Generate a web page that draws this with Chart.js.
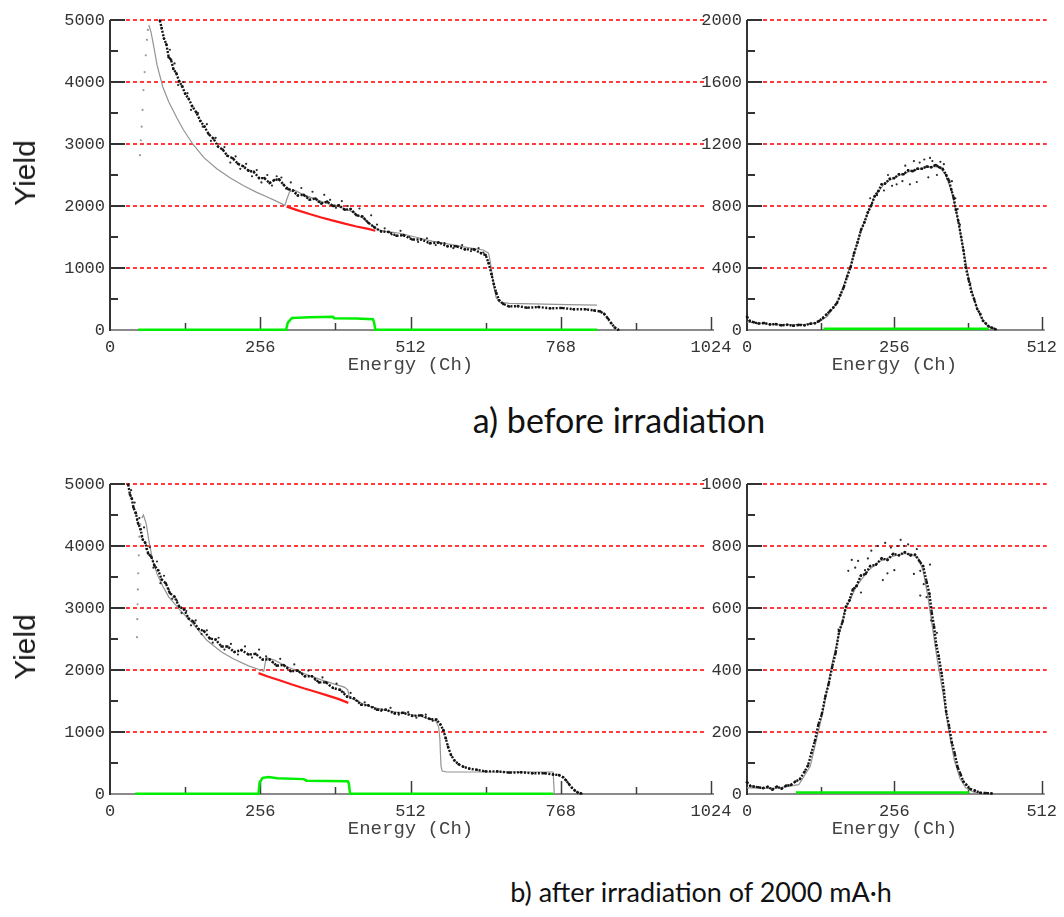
<!DOCTYPE html>
<html>
<head>
<meta charset="utf-8">
<script src="https://cdn.jsdelivr.net/npm/chart.js@4.4.1/dist/chart.umd.min.js"></script>
<style>
  body { margin: 0; background: #fff; width: 1064px; height: 917px; position: relative; overflow: hidden; }
  canvas { position: absolute; }
  .yield { position: absolute; font: 30px "Liberation Sans", Arial, sans-serif; color: #1a1a1a;
           transform: translate(-50%, -50%) rotate(-90deg); white-space: nowrap; }
  .cap { position: absolute; font-family: Lato, "Noto Sans", sans-serif; color: #111;
         transform: translate(-50%, -50%); white-space: nowrap; }
</style>
</head>
<body>
<canvas id="tl" width="700" height="380" style="left:40px;top:0px"></canvas>
<canvas id="tr" width="374" height="380" style="left:690px;top:0px"></canvas>
<canvas id="bl" width="700" height="380" style="left:40px;top:464px"></canvas>
<canvas id="br" width="374" height="380" style="left:690px;top:464px"></canvas>
<div class="yield" style="left:25px;top:173px">Yield</div>
<div class="yield" style="left:25px;top:647px">Yield</div>
<div class="cap" style="left:619px;top:419px;font-size:34px">a) before irradiation</div>
<div class="cap" style="left:701px;top:891px;font-size:27px">b) after irradiation of 2000 mA·h</div>
<script>
// ---- a) before irradiation, full spectrum (0-1024 ch)
const tlExpCh = [85, 88, 92, 96, 100, 104, 108, 113, 118, 123, 128, 134, 140, 147, 154, 161, 168, 176, 184, 192, 200, 209, 218, 227, 236, 245, 254, 263, 272, 280, 288, 296, 304, 312, 320, 330, 340, 350, 360, 370, 380, 390, 400, 410, 420, 430, 440, 450, 462, 475, 488, 500, 515, 530, 545, 560, 575, 590, 605, 620, 632, 640, 645, 650, 654, 658, 663, 670, 680, 695, 710, 730, 750, 770, 790, 810, 825, 835, 842, 848, 854, 860, 866];
const tlExpYield = [4990, 4870, 4700, 4610, 4400, 4360, 4210, 4140, 4010, 3930, 3810, 3730, 3610, 3510, 3370, 3280, 3160, 3090, 2960, 2910, 2810, 2770, 2680, 2640, 2570, 2550, 2450, 2450, 2370, 2420, 2430, 2340, 2270, 2250, 2170, 2180, 2100, 2120, 2040, 2070, 2000, 2010, 1940, 1950, 1850, 1830, 1730, 1660, 1590, 1580, 1520, 1530, 1460, 1460, 1400, 1410, 1350, 1350, 1300, 1300, 1240, 1210, 1080, 900, 740, 600, 480, 420, 380, 385, 360, 370, 350, 355, 335, 335, 315, 300, 260, 190, 110, 40, 5];
const tlNoiseCh = [102, 110, 116, 125, 132, 138, 150, 158, 165, 172, 180, 195, 205, 214, 222, 232, 242, 250, 258, 268, 276, 284, 292, 300, 308, 316, 326, 335, 345, 355, 365, 375, 385, 395, 405, 415, 425, 435, 445, 455, 468, 480, 495, 510, 525, 540, 555, 570, 585, 600, 615, 628, 636];
const tlNoiseYield = [4520, 4300, 3950, 4000, 3820, 3550, 3500, 3280, 3320, 3050, 3100, 2950, 2700, 2800, 2600, 2680, 2480, 2580, 2380, 2500, 2330, 2480, 2460, 2280, 2380, 2200, 2290, 2150, 2230, 2070, 2180, 2100, 1970, 2080, 2000, 1900, 1960, 1780, 1850, 1700, 1640, 1540, 1600, 1500, 1420, 1480, 1370, 1400, 1320, 1370, 1270, 1320, 1250];
const tlSimRiseCh = [51, 52.5, 54, 55.5, 57, 59, 61, 63, 64.5];
const tlSimRiseYield = [2820, 3060, 3280, 3550, 3870, 4160, 4430, 4680, 4840];
const tlSimCh = [66, 70, 75, 80, 90, 100, 114, 125, 141, 160, 182, 205, 227, 250, 267, 285, 298, 301, 306, 315, 330, 350, 370, 390, 410, 430, 445, 455, 470, 494, 520, 550, 580, 610, 636, 645, 648, 651, 654, 658, 664, 680, 720, 780, 830];
const tlSimYield = [4920, 4800, 4550, 4280, 3920, 3680, 3420, 3230, 3000, 2780, 2600, 2450, 2330, 2220, 2150, 2070, 2010, 2100, 2230, 2250, 2180, 2110, 2040, 1990, 1920, 1810, 1700, 1620, 1590, 1560, 1500, 1430, 1380, 1330, 1290, 1240, 1100, 900, 700, 520, 450, 430, 420, 410, 400];
const tlRedCh = [301, 320, 340, 360, 380, 400, 420, 440, 452];
const tlRedYield = [1990, 1930, 1870, 1815, 1765, 1715, 1670, 1630, 1600];
const tlGreenCh = [48, 300, 303, 310, 340, 380, 382, 420, 448, 450, 452, 830];
const tlGreenYield = [3, 3, 120, 195, 205, 215, 190, 185, 175, 120, 3, 3];

// ---- a) before irradiation, window 0-512 ch
const trExpCh = [0, 5, 12, 20, 30, 40, 50, 60, 70, 80, 90, 100, 110, 118, 125, 132, 138, 144, 150, 156, 162, 168, 174, 180, 186, 192, 198, 204, 210, 216, 222, 228, 234, 240, 248, 256, 264, 272, 280, 288, 296, 304, 312, 320, 328, 334, 340, 346, 351, 355, 359, 363, 367, 372, 376, 380, 385, 390, 395, 400, 405, 410, 415, 420, 426, 432];
const trExpYield = [85, 58, 50, 42, 45, 36, 38, 30, 34, 27, 33, 31, 40, 44, 58, 78, 100, 122, 145, 172, 225, 275, 345, 405, 495, 565, 645, 695, 760, 805, 865, 895, 940, 945, 975, 980, 1005, 1005, 1030, 1025, 1040, 1040, 1055, 1050, 1065, 1050, 1040, 1000, 965, 905, 855, 775, 705, 600, 515, 405, 325, 245, 195, 135, 105, 60, 42, 22, 14, 5];
const trNoiseCh = [252, 260, 270, 283, 295, 300, 308, 315, 322, 330, 336, 342, 348, 356, 362, 366, 245, 275, 290, 318, 238, 226, 214, 370, 388];
const trNoiseYield = [930, 940, 960, 940, 955, 1080, 1100, 985, 1090, 1000, 1085, 1070, 975, 960, 850, 780, 1000, 1060, 1090, 1110, 900, 870, 850, 680, 300];
const trSimCh = [0, 50, 100, 125, 140, 160, 180, 200, 220, 240, 260, 280, 300, 320, 335, 345, 355, 365, 375, 385, 395, 405, 415, 425, 435];
const trSimYield = [50, 35, 35, 50, 90, 200, 420, 660, 850, 950, 990, 1020, 1040, 1055, 1050, 1000, 900, 740, 540, 340, 190, 90, 35, 10, 0];
const trGreenCh = [133, 420];
const trGreenYield = [8, 8];

// ---- b) after irradiation, full spectrum
const blExpCh = [31, 34, 37, 40, 44, 48, 52, 56, 60, 65, 70, 76, 82, 88, 95, 102, 110, 118, 126, 134, 142, 151, 160, 170, 180, 190, 200, 212, 224, 236, 248, 260, 272, 284, 296, 308, 320, 332, 344, 356, 368, 380, 392, 404, 416, 428, 440, 455, 470, 485, 500, 515, 530, 545, 556, 563, 568, 572, 576, 581, 587, 594, 602, 612, 625, 640, 660, 680, 700, 720, 740, 755, 765, 772, 777, 782, 787, 792, 797, 803];
const blExpYield = [4990, 4830, 4770, 4620, 4530, 4360, 4270, 4100, 4050, 3880, 3830, 3680, 3610, 3460, 3400, 3240, 3180, 3020, 2980, 2830, 2780, 2660, 2630, 2510, 2490, 2380, 2380, 2290, 2320, 2250, 2260, 2170, 2170, 2070, 2080, 1980, 1990, 1900, 1900, 1800, 1800, 1710, 1680, 1570, 1540, 1440, 1430, 1360, 1360, 1300, 1310, 1260, 1270, 1210, 1200, 1120, 1030, 900, 760, 630, 540, 480, 440, 410, 390, 365, 365, 345, 350, 335, 335, 315, 305, 270, 220, 160, 100, 55, 25, 8];
const blNoiseCh = [36, 42, 46, 50, 54, 58, 62, 68, 74, 80, 86, 92, 100, 106, 114, 122, 130, 138, 146, 156, 165, 175, 185, 195, 206, 218, 230, 242, 254, 266, 278, 290, 302, 314, 326, 338, 350, 362, 374, 386, 398, 410, 422, 434, 448, 462, 478, 492, 508, 522, 538, 550];
const blNoiseYield = [4900, 4700, 4420, 4450, 4150, 4300, 3950, 3980, 3650, 3750, 3400, 3520, 3300, 3150, 3120, 2920, 2950, 2720, 2800, 2580, 2640, 2440, 2520, 2330, 2420, 2250, 2380, 2200, 2330, 2220, 2120, 2180, 2040, 2090, 1950, 1990, 1840, 1880, 1750, 1780, 1640, 1630, 1500, 1480, 1400, 1340, 1390, 1280, 1320, 1230, 1280, 1180];
const blSimRiseCh = [46, 46.5, 47, 47.5, 48, 49, 50, 52];
const blSimRiseYield = [2530, 2820, 3060, 3300, 3560, 3850, 4150, 4350];
const blSimCh = [54, 57, 62, 66, 72, 80, 90, 100, 119, 140, 165, 190, 210, 235, 256, 262, 266, 280, 300, 320, 340, 360, 380, 400, 405, 408, 420, 440, 470, 500, 530, 555, 560, 562, 563, 564, 566, 574, 650, 755, 757];
const blSimYield = [4450, 4500, 4350, 4100, 3800, 3550, 3350, 3180, 2970, 2760, 2480, 2290, 2180, 2070, 2000, 1980, 2200, 2160, 2060, 1980, 1910, 1840, 1780, 1720, 1680, 1560, 1500, 1420, 1350, 1300, 1250, 1180, 1080, 900, 660, 450, 370, 355, 355, 355, 0];
const blRedCh = [253, 270, 290, 310, 330, 350, 370, 390, 406];
const blRedYield = [1950, 1890, 1830, 1765, 1705, 1650, 1590, 1530, 1470];
const blGreenCh = [43, 253, 255, 260, 270, 285, 330, 335, 405, 407, 409, 755];
const blGreenYield = [3, 3, 190, 260, 275, 255, 240, 215, 205, 170, 3, 3];

// ---- b) after irradiation, window 0-512 ch
const brExpCh = [0, 6, 12, 20, 28, 36, 44, 52, 60, 68, 76, 84, 92, 100, 106, 112, 118, 124, 130, 136, 142, 148, 154, 160, 166, 172, 178, 184, 190, 198, 206, 214, 224, 234, 244, 254, 264, 274, 284, 292, 300, 306, 312, 317, 321, 325, 329, 333, 338, 342, 346, 351, 356, 361, 366, 371, 376, 381, 388, 396, 405, 415, 425];
const brExpYield = [38, 26, 24, 22, 19, 23, 14, 24, 17, 27, 29, 40, 48, 72, 92, 133, 172, 224, 258, 314, 356, 410, 455, 525, 555, 605, 625, 660, 670, 705, 710, 735, 740, 760, 755, 775, 770, 780, 770, 772, 750, 735, 685, 645, 585, 540, 480, 445, 390, 335, 265, 220, 165, 130, 86, 64, 40, 30, 16, 11, 4, 3, 2];
const brNoiseCh = [159, 170, 176, 182, 188, 193, 205, 216, 227, 236, 244, 256, 262, 267, 273, 284, 290, 301, 301, 307, 312, 318, 295, 250, 210, 198, 240, 280, 320, 330];
const brNoiseYield = [530, 590, 720, 755, 730, 752, 722, 785, 800, 690, 712, 722, 800, 820, 800, 770, 710, 720, 640, 677, 635, 740, 790, 795, 760, 650, 810, 805, 560, 520];
const brSimCh = [0, 50, 90, 110, 130, 150, 170, 190, 210, 230, 250, 270, 285, 298, 306, 314, 322, 330, 340, 350, 360, 370, 380, 395, 420];
const brSimYield = [20, 18, 30, 90, 250, 440, 590, 670, 720, 750, 765, 775, 775, 760, 720, 640, 540, 440, 330, 210, 110, 50, 20, 5, 0];
const brGreenCh = [85, 386];
const brGreenYield = [5, 5];

const tickFont = { family: 'Liberation Mono', size: 17 };

function pts(xs, ys) {
    return xs.map((x, i) => ({ x: x, y: ys[i] }));
}

// axis lines, inward ticks and the red dotted reference lines
const axisFrame = {
    id: 'axisFrame',
    beforeDatasetsDraw(chart, args, opts) {
        const { ctx, chartArea: a, scales: { x, y } } = chart;
        ctx.save();
        ctx.strokeStyle = '#ff3b3b';
        ctx.lineWidth = 2;
        ctx.setLineDash([4, 3]);
        y.ticks.forEach(t => {
            if (t.value === 0) return;
            const py = Math.round(y.getPixelForValue(t.value));
            ctx.beginPath();
            ctx.moveTo(a.left + 16, py);
            ctx.lineTo(a.right + opts.gridOver, py);
            ctx.stroke();
        });
        ctx.setLineDash([]);

        // x axis
        ctx.strokeStyle = '#8a8a8a';
        ctx.lineWidth = 2;
        ctx.beginPath();
        ctx.moveTo(a.left, a.bottom);
        ctx.lineTo(a.right + 3, a.bottom);
        ctx.stroke();
        ctx.strokeStyle = '#3c3c3c';
        ctx.lineWidth = 1.5;
        for (let v = opts.xMinor; v <= x.max; v += opts.xMinor) {
            const px = Math.round(x.getPixelForValue(v)) + 0.5;
            const len = v % (opts.xMinor * 2) === 0 ? 13 : 7;
            ctx.beginPath();
            ctx.moveTo(px, a.bottom);
            ctx.lineTo(px, a.bottom - len);
            ctx.stroke();
        }

        // y axis
        ctx.strokeStyle = '#333';
        ctx.lineWidth = 2;
        ctx.beginPath();
        ctx.moveTo(a.left, a.bottom + 1);
        ctx.lineTo(a.left, a.top);
        ctx.stroke();
        for (let v = opts.yMinor; v <= y.max; v += opts.yMinor) {
            const py = Math.round(y.getPixelForValue(v));
            const len = v % (opts.yMinor * 2) === 0 ? 15 : 8;
            ctx.beginPath();
            ctx.moveTo(a.left, py);
            ctx.lineTo(a.left + len, py);
            ctx.stroke();
        }
        ctx.restore();
    }
};

function makePanel(id, p) {
    const datasets = [
        { data: pts(p.greenCh, p.greenY), showLine: true, borderColor: '#00ee00', borderWidth: 2.5, pointRadius: 0 },
        { data: pts(p.expCh, p.expY), showLine: true, borderColor: '#151515', borderWidth: 2.4, borderDash: [2, 1.5],
          pointRadius: 1.3, pointBorderWidth: 0, pointBackgroundColor: '#151515' },
        { data: pts(p.noiseCh, p.noiseY), showLine: false, pointRadius: 1.1, pointBorderWidth: 0, pointBackgroundColor: '#2a2a2a' },
        { data: pts(p.simCh, p.simY), showLine: true, borderColor: '#949494', borderWidth: 1.2, pointRadius: 0 }
    ];
    if (p.redCh) {
        datasets.splice(1, 0, { data: pts(p.redCh, p.redY), showLine: true, borderColor: '#ff1a1a', borderWidth: 2.2, pointRadius: 0 });
    }
    if (p.riseCh) {
        datasets.push({ data: pts(p.riseCh, p.riseY), showLine: false, pointRadius: 1.1, pointBorderWidth: 0, pointBackgroundColor: '#9a9a9a' });
    }
    datasets.forEach(d => { d.clip = 6; d.tension = 0; });

    new Chart(document.getElementById(id), {
        type: 'scatter',
        data: { datasets: datasets },
        options: {
            responsive: false,
            animation: false,
            events: [],
            layout: { padding: { top: 20, right: p.padRight, left: 0, bottom: 0 } },
            plugins: {
                legend: { display: false },
                tooltip: { enabled: false },
                axisFrame: { xMinor: 128, yMinor: p.yStep / 2, gridOver: p.gridOver }
            },
            scales: {
                x: {
                    type: 'linear',
                    min: 0,
                    max: p.xMax,
                    grid: { display: false, drawTicks: false },
                    border: { display: false },
                    ticks: { stepSize: 256, font: tickFont, color: '#333', padding: 7, maxRotation: 0,
                             callback: v => String(v) },
                    title: { display: true, text: 'Energy (Ch)', font: { family: 'Liberation Mono', size: 19 }, color: '#444', padding: { top: 0, bottom: 4 } },
                    afterFit: s => { s.height = 50; }
                },
                y: {
                    min: 0,
                    max: p.yMax,
                    grid: { display: false, drawTicks: false },
                    border: { display: false },
                    ticks: { stepSize: p.yStep, font: tickFont, color: '#333', padding: 5,
                             callback: v => String(v) },
                    afterFit: s => { s.width = p.yWidth; }
                }
            }
        },
        plugins: [axisFrame]
    });
}

makePanel('tl', {
    expCh: tlExpCh, expY: tlExpYield, noiseCh: tlNoiseCh, noiseY: tlNoiseYield,
    simCh: tlSimCh, simY: tlSimYield, riseCh: tlSimRiseCh, riseY: tlSimRiseYield,
    redCh: tlRedCh, redY: tlRedYield, greenCh: tlGreenCh, greenY: tlGreenYield,
    xMax: 1024, yMax: 5000, yStep: 1000, yWidth: 70, padRight: 29, gridOver: -4
});
makePanel('tr', {
    expCh: trExpCh, expY: trExpYield, noiseCh: trNoiseCh, noiseY: trNoiseYield,
    simCh: trSimCh, simY: trSimYield, greenCh: trGreenCh, greenY: trGreenYield,
    xMax: 512, yMax: 2000, yStep: 400, yWidth: 57, padRight: 17, gridOver: 5
});
makePanel('bl', {
    expCh: blExpCh, expY: blExpYield, noiseCh: blNoiseCh, noiseY: blNoiseYield,
    simCh: blSimCh, simY: blSimYield, riseCh: blSimRiseCh, riseY: blSimRiseYield,
    redCh: blRedCh, redY: blRedYield, greenCh: blGreenCh, greenY: blGreenYield,
    xMax: 1024, yMax: 5000, yStep: 1000, yWidth: 70, padRight: 29, gridOver: -4
});
makePanel('br', {
    expCh: brExpCh, expY: brExpYield, noiseCh: brNoiseCh, noiseY: brNoiseYield,
    simCh: brSimCh, simY: brSimYield, greenCh: brGreenCh, greenY: brGreenYield,
    xMax: 512, yMax: 1000, yStep: 200, yWidth: 57, padRight: 17, gridOver: 5
});
</script>
</body>
</html>
